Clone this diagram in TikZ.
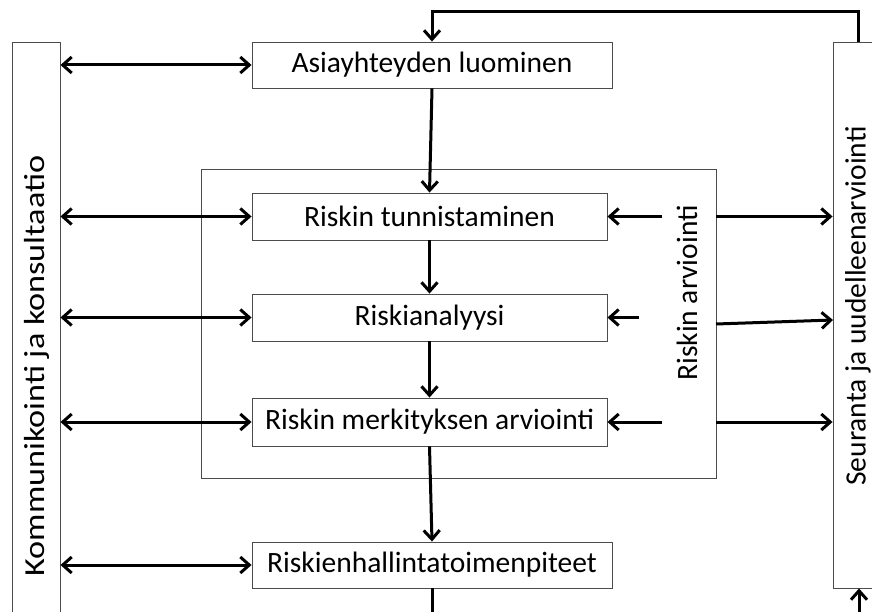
\documentclass[tikz,border=0pt]{standalone}
\usepackage{fontspec}
\setmainfont{Carlito}
\usetikzlibrary{arrows.meta}
\begin{document}
\begin{tikzpicture}[x=1pt,y=-1pt,
  box/.style={draw=black!70, line width=0.9pt, fill=white, inner sep=0pt},
  lbl/.style={font=\fontsize{29.5}{34}\selectfont},
  widelbl/.style={font=\fontsize{29}{34}\selectfont\addfontfeature{FakeStretch=1.18}},
  conn/.style={line width=3pt, black},
  tip/.tip={Straight Barb[length=9pt,width=16pt]},
  arr/.style={conn, -tip},
  darr/.style={conn, tip-tip}]
\useasboundingbox (0,0) rectangle (872,612);
\clip (0,0) rectangle (872,612);

% side boxes
\node[box, minimum width=48pt, minimum height=660pt] (komm) at (36,372) {};
\node[widelbl, rotate=90] at (37,366) {Kommunikointi ja konsultaatio};
\node[box, minimum width=50pt, minimum height=546pt] (seur) at (858,315) {};
\node[lbl, rotate=90] at (858,306) {Seuranta ja uudelleenarviointi};

% risk assessment frame
\node[box, minimum width=515pt, minimum height=309pt] (arv) at (458.5,323.5) {};
\node[lbl, rotate=90] at (687,293) {Riskin arviointi};

% process boxes
\node[box, lbl, minimum width=360pt, minimum height=46pt] (asia) at (432,65) {Asiayhteyden luominen};
\node[box, lbl, minimum width=355pt, minimum height=47pt] (tunn) at (429.5,216.5) {Riskin tunnistaminen};
\node[box, lbl, minimum width=355pt, minimum height=47pt] (anal) at (429.5,317.5) {Riskianalyysi};
\node[box, lbl, minimum width=355pt, minimum height=48pt] (merk) at (429.5,422) {Riskin merkityksen arviointi};
\node[box, lbl, minimum width=360pt, minimum height=46pt] (hall) at (432,565) {Riskienhallintatoimenpiteet};

% communication arrows
\draw[darr] (komm.east |- asia.west) -- (asia.west);
\draw[darr] (komm.east |- tunn.west) -- (tunn.west);
\draw[darr] (komm.east |- anal.west) -- (anal.west);
\draw[darr] (komm.east |- merk.west) -- (merk.west);
\draw[darr] (komm.east |- hall.west) -- (hall.west);

% main flow
\draw[arr] (asia.south) -- (tunn.north);
\draw[arr] (tunn.south) -- (anal.north);
\draw[arr] (anal.south) -- (merk.north);
\draw[arr] (merk.south) -- (hall.north);
\coordinate (hallout) at (432,625);
\draw[conn] (hall.south) -- (hallout);

% arrows from the assessment label
\coordinate (r1) at (662,216.5);
\coordinate (r2) at (639,317.5);
\coordinate (r3) at (662,422);
\draw[arr] (r1) -- (tunn.east);
\draw[arr] (r2) -- (anal.east);
\draw[arr] (r3) -- (merk.east);

% arrows to monitoring
\coordinate (m2a) at (716,324);
\coordinate (m2b) at (833,320);
\draw[arr] (arv.east |- tunn.east) -- (seur.west |- tunn.east);
\draw[arr] (m2a) -- (m2b);
\draw[arr] (arv.east |- merk.east) -- (seur.west |- merk.east);

% feedback loop
\draw[arr] (seur.north) -- ++(0,-30) -| (asia.north);
\coordinate (sin) at (859,625);
\draw[arr] (sin) -- (sin |- seur.south);
\end{tikzpicture}
\end{document}
